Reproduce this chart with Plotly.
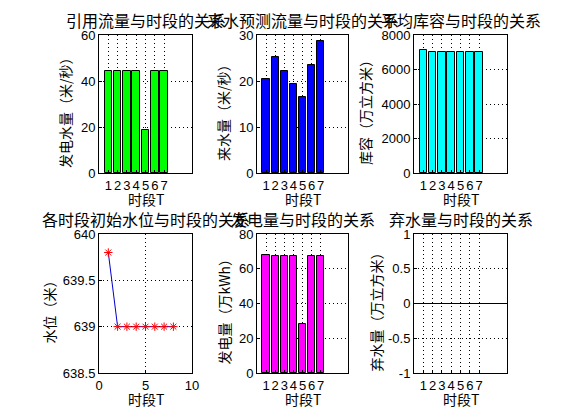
import plotly.graph_objects as go
from plotly.subplots import make_subplots

W, H = 561, 420
PAGE_OFFSET = 8  # the page puts the figure 8px in from the corner

# data
periods = [1, 2, 3, 4, 5, 6, 7]
period_ticks = ["1", "2", "3", "4", "5", "6", "7"]
gen_flow = [44.3, 44.3, 44.3, 44.3, 18.7, 44.3, 44.3]  # 发电水量
inflow = [20.4, 25.2, 22.2, 19.3, 16.5, 23.5, 28.7]  # 来水量
storage = [7130, 7010, 7010, 7010, 7010, 7010, 7010]  # 库容
level_t = [1, 2, 3, 4, 5, 6, 7, 8]
level = [639.8, 639.0, 639.0, 639.0, 639.0, 639.0, 639.0, 639.0]  # 水位
power = [67.8, 67.1, 67.1, 67.1, 28.1, 67.1, 67.1]  # 发电量
spill = [0, 0, 0, 0, 0, 0, 0]  # 弃水量

titles = ["引用流量与时段的关系", "来水预测流量与时段的关系", "平均库容与时段的关系",
          "各时段初始水位与时段的关系", "发电量与时段的关系", "弃水量与时段的关系"]
ylabels = ["发电水量（米/秒）", "来水量（米/秒）", "库容（万立方米）",
           "水位（米）", "发电量（万kWh）", "弃水量（万立方米）"]
xlabel = "时段T"

CJK = "Noto Sans CJK SC"
NUM = "Liberation Sans"

# axes boxes in pixels of the reference (left, right, top, bottom)
cols_px = [(99, 192), (257, 348), (414, 507)]
rows_px = [(35, 173), (234, 373)]
ylab_x = [65, 223, 365, 48, 223, 375]


def px_x(p):
    return (p - PAGE_OFFSET) / W


def px_y(p):
    return 1 - (p - PAGE_OFFSET) / H


fig = make_subplots(rows=2, cols=3)

bars = [(gen_flow, "#00ff00"), (inflow, "#0000ff"), (storage, "#00ffff")]
for i, (vals, col) in enumerate(bars):
    fig.add_trace(go.Bar(x=periods, y=vals, width=0.8, marker_color=col,
                         marker_line=dict(color="black", width=1)), 1, i + 1)

fig.add_trace(go.Scatter(x=level_t, y=level, mode="lines+markers",
                         line=dict(color="#0000cc", width=1),
                         marker=dict(symbol="asterisk-open", size=7, color="red",
                                     line=dict(color="red", width=1))), 2, 1)
fig.add_trace(go.Bar(x=periods, y=power, width=0.8, marker_color="#ff00ff",
                     marker_line=dict(color="black", width=1)), 2, 2)
fig.add_trace(go.Bar(x=periods, y=spill, width=0.8, marker_color="#ff00ff",
                     marker_line=dict(width=0)), 2, 3)

yranges = [[0, 60], [0, 30], [0, 8000], [638.5, 640], [0, 80], [-1, 1]]
yticks = [[0, 20, 40, 60], [0, 10, 20, 30], [0, 2000, 4000, 6000, 8000],
          [638.5, 639, 639.5, 640], [0, 20, 40, 60, 80], [-1, -0.5, 0, 0.5, 1]]
yticktext = [["0", "20", "40", "60"], ["0", "10", "20", "30"],
             ["0", "2000", "4000", "6000", "8000"],
             ["638.5", "639", "639.5", "640"], ["0", "20", "40", "60", "80"],
             ["-1", "-0.5", "0", "0.5", "1"]]

axis_style = dict(showline=True, mirror=True, linecolor="black", linewidth=1,
                  showgrid=True, gridcolor="black", griddash="1px,3px", gridwidth=1,
                  ticks="inside", ticklen=3, tickcolor="black", zeroline=False,
                  automargin=False, tickangle=0,
                  tickfont=dict(family=NUM, size=13, color="black"))

for k in range(6):
    r, c = divmod(k, 3)
    n = "" if k == 0 else str(k + 1)
    left, right = cols_px[c]
    top, bottom = rows_px[r]
    if k == 3:
        xt = dict(range=[0, 10], tickvals=[0, 5, 10], ticktext=["0", "5", "10"])
    else:
        xt = dict(range=[0, 10], tickvals=periods, ticktext=period_ticks)
    fig.layout["xaxis" + n].update(domain=[px_x(left), px_x(right)], **xt, **axis_style)
    fig.layout["yaxis" + n].update(domain=[px_y(bottom), px_y(top)], range=yranges[k],
                                   tickvals=yticks[k], ticktext=yticktext[k], **axis_style)
    if k == 5:
        fig.layout["yaxis6"].update(zeroline=True, zerolinecolor="black", zerolinewidth=1)

    cx = (left + right) / 2
    fig.add_annotation(text=titles[k], xref="paper", yref="paper",
                       x=px_x(cx), y=px_y(top - 15), showarrow=False,
                       xanchor="center", yanchor="middle",
                       font=dict(family=CJK, size=16, color="black"))
    fig.add_annotation(text=xlabel, xref="paper", yref="paper",
                       x=px_x(cx), y=px_y(bottom + 26), showarrow=False,
                       xanchor="center", yanchor="middle",
                       font=dict(family=CJK, size=14, color="black"))
    fig.add_annotation(text=ylabels[k], xref="paper", yref="paper", textangle=-90,
                       x=px_x(ylab_x[k]), y=px_y((top + bottom) / 2 + 5), showarrow=False,
                       xanchor="center", yanchor="middle",
                       font=dict(family=CJK, size=14, color="black"))

fig.update_layout(width=W, height=H, margin=dict(l=0, r=0, t=0, b=0),
                  paper_bgcolor="white", plot_bgcolor="white", showlegend=False,
                  bargap=0)

fig.write_html("out.html")
